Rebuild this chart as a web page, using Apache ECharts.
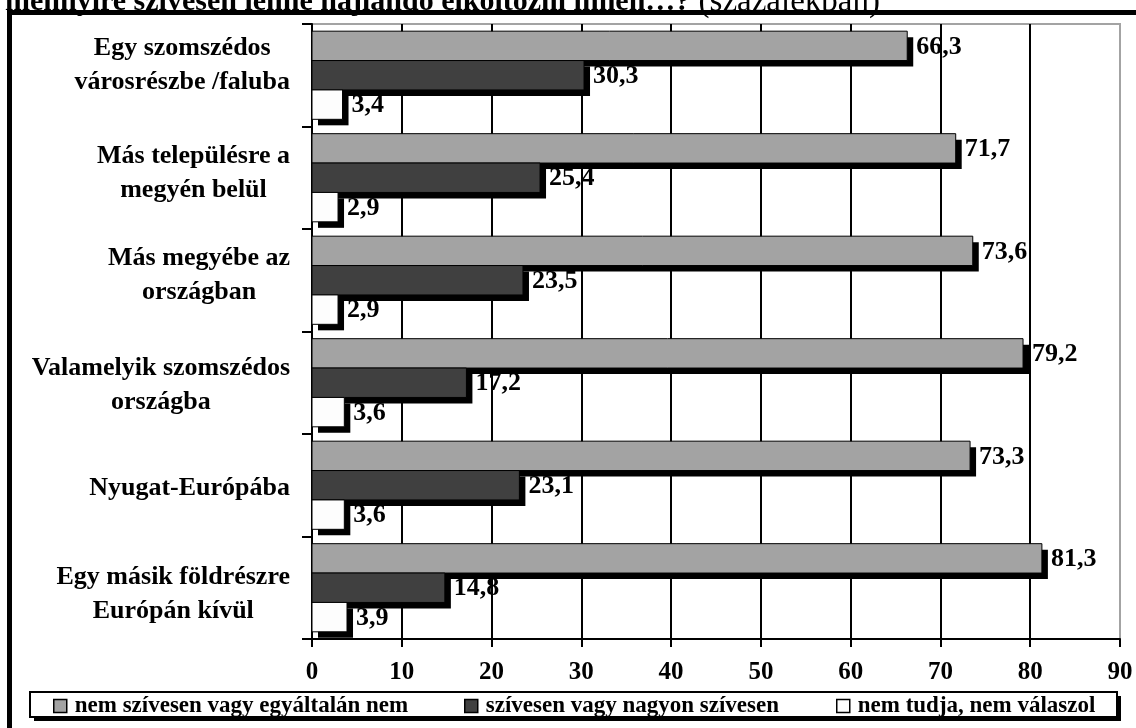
<!DOCTYPE html>
<html>
<head>
<meta charset="utf-8">
<script src="https://cdn.jsdelivr.net/npm/echarts@6/dist/echarts.min.js"></script>
<style>
html,body{margin:0;padding:0;background:#fff;}
#chart{width:1136px;height:728px;}
</style>
</head>
<body>
<div id="chart"></div>
<script>
var categories = [
  'Egy szomszédos\nvárosrészbe /faluba',
  'Más településre a\nmegyén belül',
  'Más megyébe az\nországban',
  'Valamelyik szomszédos\nországba',
  'Nyugat-Európába',
  'Egy másik földrészre\nEurópán kívül'
];
var seriesNames = ['nem szívesen vagy egyáltalán nem', 'szívesen vagy nagyon szívesen', 'nem tudja, nem válaszol'];
var notWilling = [66.3, 71.7, 73.6, 79.2, 73.3, 81.3];
var willing = [30.3, 25.4, 23.5, 17.2, 23.1, 14.8];
var noAnswer = [3.4, 2.9, 2.9, 3.6, 3.6, 3.9];
var xTicks = [0, 10, 20, 30, 40, 50, 60, 70, 80, 90];
var titleBold = 'mennyire szívesen lenne hajlandó elköltözni innen…?';
var titleNormal = ' (százalékban)';

// layout / style constants
var FONT = '"Liberation Serif", "Times New Roman", serif';
var colors = ['#a3a3a3', '#404040', '#fdfdfd'];
var labelShiftY = [-10, -4, -5, 3, 3, 7]; // vertical nudges of category labels (px)
var seriesData = [notWilling, willing, noAnswer];
var GAP = 0.14, SHADOW = 6;

var catRich = {
  c: {align: 'center', fontFamily: FONT, fontWeight: 'bold', fontSize: 26, lineHeight: 34, color: '#000'}
};
labelShiftY.forEach(function (d, k) {
  catRich['s' + k] = {fontSize: 1, lineHeight: Math.max(1, 2 * Math.abs(d))};
});

function catFormatter(value, index) {
  var lines = value.split('\n').map(function (l) { return '{c|' + l + '}'; });
  var d = labelShiftY[index];
  if (d > 0) lines.unshift('{s' + index + '| }');
  if (d < 0) lines.push('{s' + index + '| }');
  return lines.join('\n');
}

function fmt(v) { return String(v).replace('.', ','); }

function mkSeries(i) {
  return {
    name: seriesNames[i],
    type: 'custom',
    coordinateSystem: 'cartesian2d',
    encode: {x: 0, y: 1},
    data: seriesData[i].map(function (v, j) { return [v, j]; }),
    itemStyle: {color: colors[i], borderColor: '#000', borderWidth: 1},
    renderItem: function (params, api) {
      var v = api.value(0), j = api.value(1);
      var p0 = api.coord([0, j]);
      var p1 = api.coord([v, j]);
      var band = api.size([0, 1])[1];
      var h = band * (1 - GAP) / 3;
      var y0 = p0[1] - band * (1 - GAP) / 2 + i * h;
      var w = p1[0] - p0[0];
      return {
        type: 'group',
        children: [
          {type: 'rect', shape: {x: p0[0] + SHADOW, y: y0 + SHADOW, width: w, height: h}, style: {fill: '#000'}},
          {type: 'rect', shape: {x: p0[0], y: y0, width: w, height: h}, style: {fill: colors[i], stroke: '#000', lineWidth: 1}},
          {type: 'text', style: {
            text: fmt(v), x: p1[0] + 9, y: y0 + h / 2 + 1,
            align: 'left', verticalAlign: 'middle',
            font: 'bold 26px ' + FONT, fill: '#000'
          }}
        ]
      };
    }
  };
}

var legendLefts = [53, 464, 836];
var legends = seriesNames.map(function (n, i) {
  return {
    data: [n],
    left: legendLefts[i],
    top: 693,
    padding: 0,
    icon: 'rect',
    itemWidth: 13,
    itemHeight: 13,
    selectedMode: false,
    itemStyle: {
      color: colors[i],
      borderColor: '#000',
      borderWidth: 1.5
    },
    textStyle: {
      fontFamily: FONT,
      fontWeight: 'bold',
      fontSize: 23,
      lineHeight: 26,
      color: '#000',
      padding: [0, 0, 0, 3]
    }
  };
});

var chart = echarts.init(document.getElementById('chart'), null, {renderer: 'canvas'});
chart.setOption({
  animation: false,
  backgroundColor: '#fff',
  grid: {
    left: 312, right: 16, top: 24, bottom: 89,
    outerBoundsMode: 'none',
    containLabel: false,
    show: true,
    borderColor: '#a3a3a3',
    borderWidth: 2,
    backgroundColor: '#fff'
  },
  legend: legends,
  xAxis: {
    type: 'value',
    min: xTicks[0],
    max: xTicks[xTicks.length - 1],
    interval: 10,
    axisLine: {show: true, lineStyle: {color: '#000', width: 2}},
    axisTick: {show: true, length: 8, lineStyle: {color: '#000', width: 2}},
    splitLine: {show: true, lineStyle: {color: ['#a3a3a3', '#000', '#000', '#000', '#000', '#000', '#000', '#000', '#000', '#a3a3a3'], width: 2}},
    axisLabel: {
      margin: 21,
      fontFamily: FONT,
      fontWeight: 'bold',
      fontSize: 25,
      color: '#000',
      formatter: function (v) { return String(v); }
    }
  },
  yAxis: {
    type: 'category',
    inverse: true,
    data: categories,
    axisLine: {show: true, lineStyle: {color: '#000', width: 2}},
    axisTick: {show: true, length: 10, lineStyle: {color: '#000', width: 2}},
    axisLabel: {
      margin: 22,
      align: 'right',
      verticalAlign: 'middle',
      fontFamily: FONT,
      fontWeight: 'bold',
      fontSize: 26,
      lineHeight: 34,
      color: '#000',
      formatter: catFormatter,
      rich: catRich
    }
  },
  series: [mkSeries(0), mkSeries(1), mkSeries(2)],
  graphic: [
    {
      type: 'text',
      left: 5,
      top: -14,
      z: 100,
      style: {
        text: '{b|' + titleBold + '}{n|' + titleNormal + '}',
        rich: {
          b: {fontFamily: FONT, fontWeight: 'bold', fontSize: 30, fill: '#000'},
          n: {fontFamily: FONT, fontWeight: 'normal', fontSize: 33, fill: '#000'}
        }
      }
    },
    {type: 'rect', z: 100, shape: {x: 7, y: 10, width: 1129, height: 5}, style: {fill: '#000'}},
    {type: 'rect', z: 100, shape: {x: 7, y: 10, width: 5, height: 718}, style: {fill: '#000'}},
    {type: 'rect', z: -11, shape: {x: 34, y: 696, width: 1087, height: 25}, style: {fill: '#000'}},
    {type: 'rect', z: -10, shape: {x: 30, y: 692, width: 1087, height: 25}, style: {fill: '#fff', stroke: '#000', lineWidth: 2}}
  ]
});
</script>
</body>
</html>
